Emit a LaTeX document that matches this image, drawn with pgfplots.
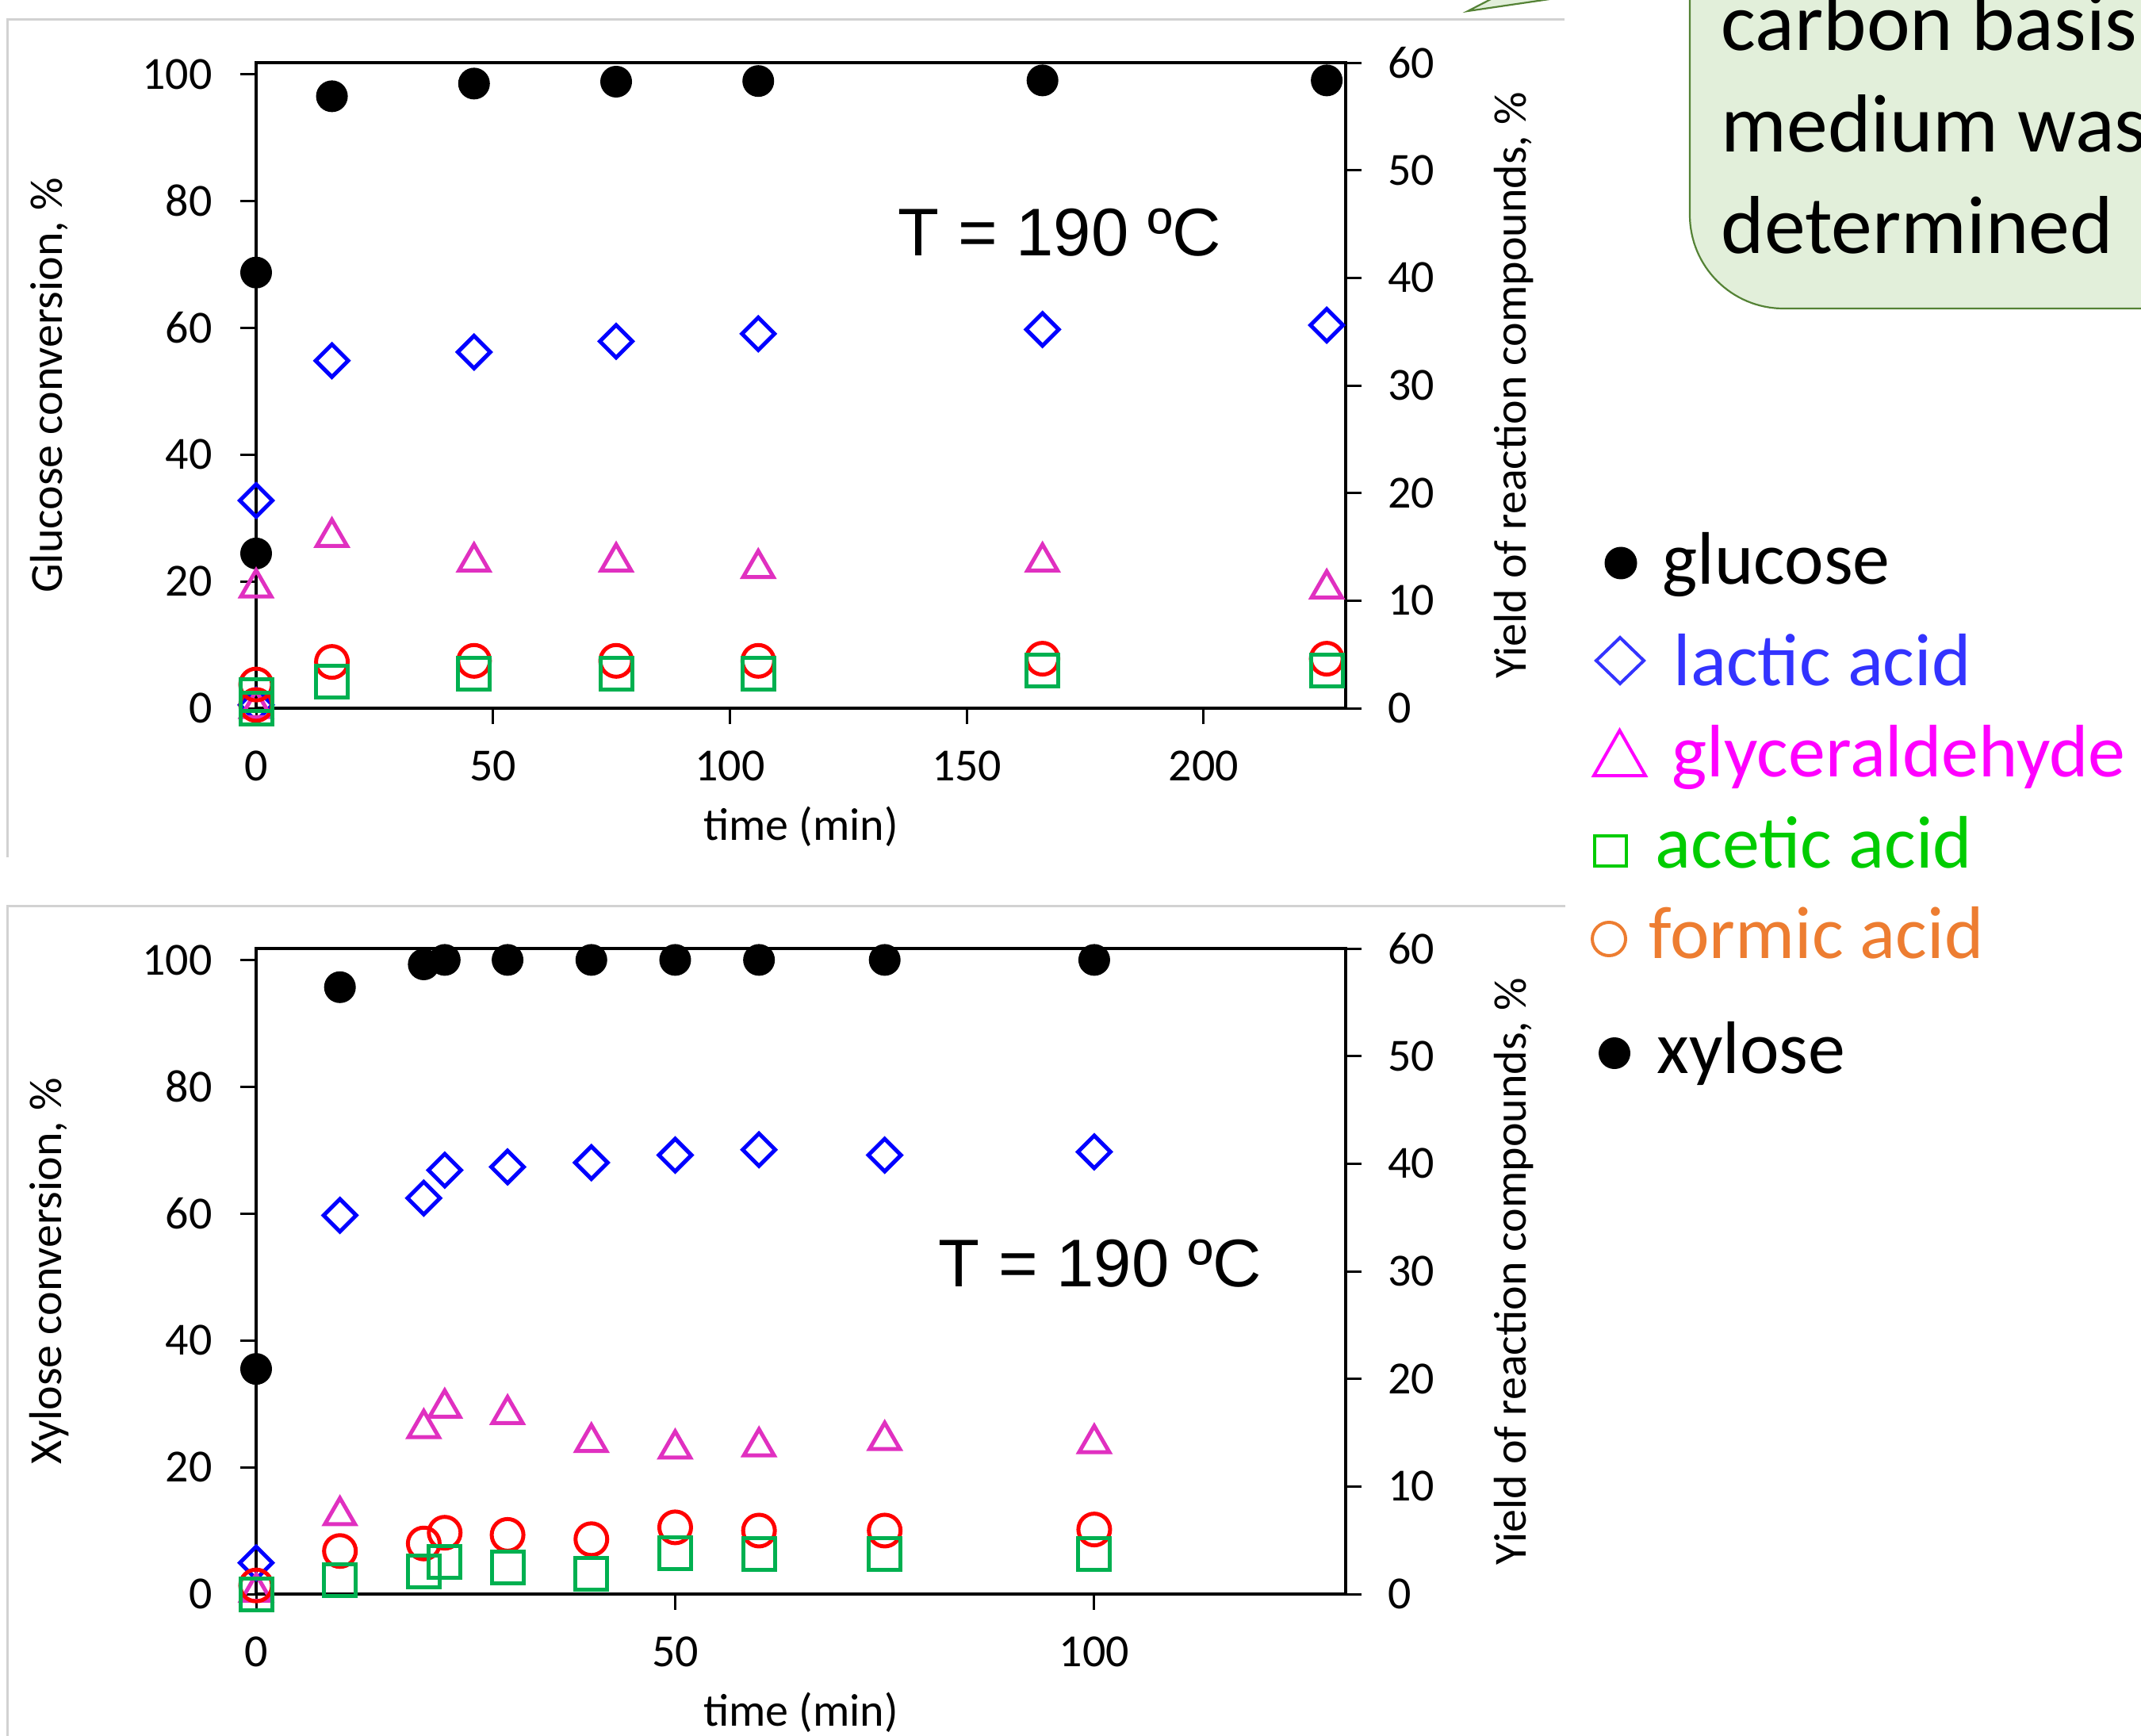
\documentclass[border=0pt]{standalone}
\usepackage{pgfplots}
\pgfplotsset{compat=1.18}
\usepackage{fontspec}
\setmainfont{Carlito}
\newfontfamily\arial{Liberation Sans}

\definecolor{lacticC}{RGB}{0,0,255}
\definecolor{glyC}{RGB}{224,48,192}
\definecolor{aceticC}{RGB}{0,176,80}
\definecolor{formicC}{RGB}{255,0,0}
\definecolor{legBlue}{RGB}{51,51,255}
\definecolor{legMag}{RGB}{255,0,255}
\definecolor{legGreen}{RGB}{0,204,0}
\definecolor{legOrange}{RGB}{237,125,49}
\definecolor{noteFill}{RGB}{226,239,218}
\definecolor{noteEdge}{RGB}{84,130,53}
\definecolor{frameGray}{RGB}{210,210,210}

\pgfplotsset{
  panel/.style={
    scale only axis, width=137.4mm, height=81.4mm,
    xmin=0, clip=false,
    tick align=outside, major tick length=2mm,
    axis line style={line width=0.35mm},
    every tick/.style={line width=0.3mm, black},
    tick label style={font=\fontsize{16.5}{19}\selectfont},
    label style={font=\fontsize{16.5}{19}\selectfont},
    /pgf/number format/assume math mode=true,
  },
  leftax/.style={panel, ymin=0, ymax=101.8, ytick={0,20,...,100},
    xtick pos=left, ytick pos=left,
    yticklabel style={xshift=-2.3mm}, xticklabel style={yshift=-2.1mm},
    ylabel style={at={(axis description cs:-0.19,0.5)}, anchor=center},
    xlabel style={at={(axis description cs:0.5,-0.183)}, anchor=center},
    xlabel={time (min)}},
  rightax/.style={panel, ymin=0, ymax=60, ytick={0,10,...,60},
    axis x line=none, axis y line*=right,
    yticklabel style={xshift=2.1mm},
    ylabel style={at={(axis description cs:1.154,0.5)}, anchor=center},
    ylabel={Yield of reaction compounds, \%}},
  gl/.style={only marks, mark=*, mark size=1.9mm, black, mark options={line width=0.2mm}},
  la/.style={only marks, mark=square, mark size=1.45mm, lacticC, mark options={rotate=45, line width=0.5mm, line join=miter}},
  gy/.style={only marks, mark=triangle, mark size=2.2mm, glyC, mark options={line width=0.5mm}},
  fo/.style={only marks, mark=o, mark size=2mm, formicC, mark options={line width=0.5mm}},
  ac/.style={only marks, mark=square, mark size=2mm, aceticC, mark options={line width=0.5mm}},
}

\begin{document}
\begin{tikzpicture}
\useasboundingbox (0,0) rectangle (270mm,-218.9mm);

% slide frames
\draw[frameGray, line width=0.3mm] (0.96mm,-108.1mm) -- (0.96mm,-2.46mm) -- (197.3mm,-2.46mm);
\draw[frameGray, line width=0.3mm] (0.96mm,-225mm) -- (0.96mm,-114.2mm) -- (197.4mm,-114.2mm);

% callout box (cut off by the page)
\fill[noteFill] (213.1mm,5mm) -- (213.1mm,-27.1mm) arc[start angle=180, end angle=270, radius=11.8mm] -- (280mm,-38.9mm) -- (280mm,5mm) -- cycle;
\draw[noteEdge, line width=0.22mm] (213.1mm,5mm) -- (213.1mm,-27.1mm) arc[start angle=180, end angle=270, radius=11.8mm] -- (280mm,-38.9mm);
\filldraw[fill=noteFill, draw=noteEdge, line width=0.22mm] (191.7mm,2mm) -- (185.1mm,-1.4mm) -- (208.4mm,2mm);
\begin{scope}[every node/.style={anchor=base west, inner sep=0pt, font=\fontsize{29.5}{35}\selectfont}]
\node at (217.0mm,-6.4mm) {carbon basis};
\node at (217.0mm,-19.2mm) {medium was};
\node at (217.0mm,-32.0mm) {determined};
\end{scope}

% ---- glucose panel ----
\begin{axis}[leftax, at={(32.3mm,-89.3mm)}, anchor=south west,
  xmax=230, xtick={0,50,...,200}, ylabel={Glucose conversion, \%}]
\addplot[gl] coordinates {(0,68.7) (0,24.4) (16,96.5) (46,98.5) (76,98.8) (106,98.9) (166,99.0) (226,99.0)};
\end{axis}
\begin{axis}[rightax, at={(32.3mm,-89.3mm)}, anchor=south west, xmax=230]
\addplot[la] coordinates {(0,19.3) (0,0.3) (16,32.3) (46,33.1) (76,34.1) (106,34.8) (166,35.2) (226,35.6)};
\addplot[gy] coordinates {(0,11.2) (0,0.0) (16,15.9) (46,13.6) (76,13.6) (106,13.0) (166,13.6) (226,11.1)};
\addplot[fo] coordinates {(0,2.2) (0,0.3) (16,4.3) (46,4.4) (76,4.4) (106,4.4) (166,4.6) (226,4.6)};
\addplot[ac] coordinates {(0,1.2) (0,0.0) (16,2.5) (46,3.2) (76,3.2) (106,3.2) (166,3.5) (226,3.5)};
\end{axis}
\node[anchor=base west, inner sep=0pt, font=\arial\fontsize{24.2}{29}\selectfont] at (113.2mm,-32.3mm) {T = 190 ºC};

% ---- xylose panel ----
\begin{axis}[leftax, at={(32.3mm,-201.0mm)}, anchor=south west,
  xmax=130, xtick={0,50,100}, ylabel={Xylose conversion, \%}]
\addplot[gl] coordinates {(0,35.5) (10,95.7) (20,99.3) (22.5,100) (30,100) (40,100) (50,100) (60,100) (75,100) (100,100)};
\end{axis}
\begin{axis}[rightax, at={(32.3mm,-201.0mm)}, anchor=south west, xmax=130]
\addplot[la] coordinates {(0,2.9) (10,35.2) (20,36.8) (22.5,39.4) (30,39.7) (40,40.1) (50,40.8) (60,41.3) (75,40.8) (100,41.1)};
\addplot[gy] coordinates {(0,0.2) (10,7.3) (20,15.4) (22.5,17.3) (30,16.7) (40,14.1) (50,13.5) (60,13.7) (75,14.3) (100,14.0)};
\addplot[fo] coordinates {(0,0.8) (10,4.0) (20,4.7) (22.5,5.7) (30,5.5) (40,5.1) (50,6.2) (60,5.9) (75,5.9) (100,6.0)};
\addplot[ac] coordinates {(0,0.0) (10,1.3) (20,2.1) (22.5,3.0) (30,2.5) (40,1.9) (50,3.8) (60,3.7) (75,3.7) (100,3.7)};
\end{axis}
\node[anchor=base west, inner sep=0pt, font=\arial\fontsize{24.2}{29}\selectfont] at (118.3mm,-162.2mm) {T = 190 ºC};

% ---- shared legend ----
\fill[black] (204.4mm,-71.0mm) circle[radius=2.05mm];
\draw[legBlue, line width=0.4mm] (204.3mm,-80.4mm) -- (207.3mm,-83.3mm) -- (204.3mm,-86.2mm) -- (201.3mm,-83.3mm) -- cycle;
\draw[legMag, line width=0.4mm, line join=miter] (204.25mm,-92.1mm) -- (207.5mm,-97.8mm) -- (201.0mm,-97.8mm) -- cycle;
\draw[legGreen, line width=0.4mm] (201.1mm,-105.4mm) rectangle (205.1mm,-109.2mm);
\draw[legOrange, line width=0.4mm] (202.9mm,-118.4mm) circle[radius=2.1mm];
\fill[black] (203.6mm,-132.8mm) circle[radius=2.0mm];
\begin{scope}[every node/.style={anchor=base west, inner sep=0pt, font=\fontsize{26.7}{32}\selectfont}]
\node at (209.6mm,-73.7mm) {glucose};
\node[text=legBlue] at (211.0mm,-86.4mm) {lactic acid};
\node[text=legMag] at (210.8mm,-97.9mm) {glyceraldehyde};
\node[text=legGreen] at (208.7mm,-109.4mm) {acetic acid};
\node[text=legOrange] at (207.9mm,-120.8mm) {formic acid};
\node at (208.9mm,-135.3mm) {xylose};
\end{scope}
\end{tikzpicture}
\end{document}
